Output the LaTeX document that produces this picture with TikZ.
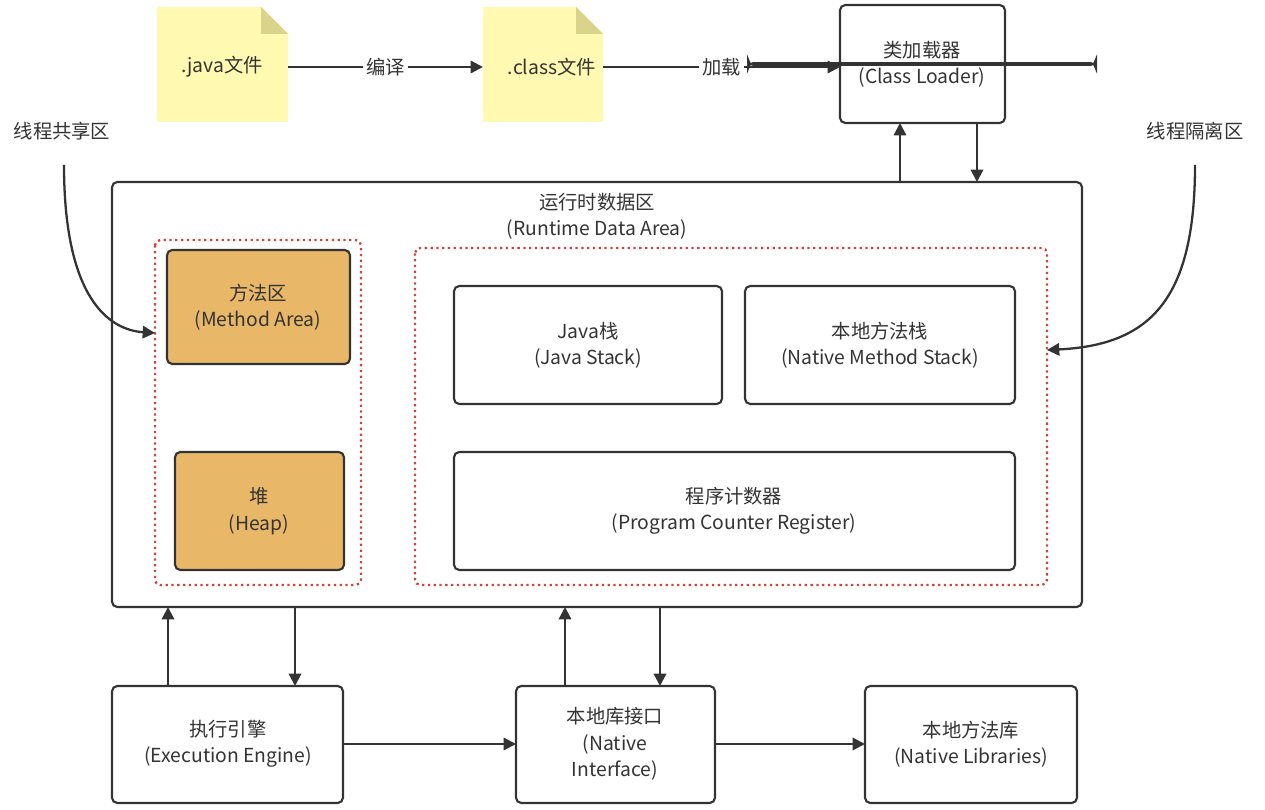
\documentclass[tikz,border=0pt]{standalone}
\usepackage{fontspec}
\setmainfont{Noto Sans CJK SC}
\usetikzlibrary{arrows.meta}
\definecolor{note}{HTML}{FFF9B1}
\definecolor{fold}{HTML}{D9D48A}
\definecolor{area}{HTML}{E8B868}
\definecolor{ink}{HTML}{333333}
\definecolor{dotred}{HTML}{D0453A}
\begin{document}
\begin{tikzpicture}[x=0.02cm,y=-0.02cm,
  every node/.style={font=\fontsize{11}{15}\selectfont, text=ink, align=center},
  box/.style={draw=ink, line width=1.2pt, rounded corners=3pt, inner sep=0pt},
  mem/.style={box, fill=area},
  zone/.style={draw=dotred, line width=1.3pt, dotted, rounded corners=3pt},
  arr/.style={draw=ink, line width=1.3pt, -{Triangle[length=7pt,width=7pt]}},
  lbl/.style={fill=white, inner sep=2pt}]
\useasboundingbox (0,0) rectangle (1265,810);
% notes
\fill[note] (157,7) -- (261,7) -- (288,34) -- (288,122) -- (157,122) -- cycle;
\fill[fold] (261,7) -- (288,34) -- (261,34) -- cycle;
\fill[note] (483,7) -- (576,7) -- (603,34) -- (603,122) -- (483,122) -- cycle;
\fill[fold] (576,7) -- (603,34) -- (576,34) -- cycle;
\node (java) at (222,67) {.java文件};
\node (class) at (552,67) {.class文件};
\coordinate (javaE) at (288,67);
\coordinate (classW) at (483,67);
\coordinate (classE) at (603,67);
% class loader
\node[box, minimum width=165\pgflinewidth, text width=3cm] (cl) at (922,64) {};
\draw[box] (840,5) rectangle (1005,123);
\node at (922,64) {类加载器\\(Class Loader)};
\coordinate (clW) at (840,67);
\draw[arr] (javaE) -- node[lbl]{编译} (classW);
\draw[arr] (classE) -- node[lbl]{加载} (clW);
% runtime area
\draw[box] (112,182) rectangle (1082,607);
\node at (597,216) {运行时数据区\\(Runtime Data Area)};
\draw[zone] (155,240) rectangle (361,585);
\draw[zone] (415,248) rectangle (1047,585);
\draw[mem] (167,250) rectangle (350,364);
\node (ma) at (258,307) {方法区\\(Method Area)};
\draw[mem] (175,452) rectangle (344,570);
\node (heap) at (259,511) {堆\\(Heap)};
\draw[box] (454,286) rectangle (722,404);
\node (js) at (588,345) {Java栈\\(Java Stack)};
\draw[box] (745,286) rectangle (1015,404);
\node (nms) at (880,345) {本地方法栈\\(Native Method Stack)};
\draw[box] (454,452) rectangle (1015,570);
\node (pc) at (734,511) {程序计数器\\(Program Counter Register)};
\draw[arr] (900,182) -- (900,123);
\draw[arr] (977,123) -- (977,182);
% side labels
\node (shared) at (62,131) {线程共享区};
\node (isol) at (1195,131) {线程隔离区};
\coordinate (lz) at (155,333);
\coordinate (rz) at (1047,350);
\draw[arr] (64,165) .. controls (64,300) and (110,330) .. (lz);
\draw[arr] (1195,165) .. controls (1195,300) and (1150,345) .. (rz);
% bottom
\draw[box] (112,686) rectangle (343,803);
\node (ee) at (228,744) {执行引擎\\(Execution Engine)};
\draw[box] (516,686) rectangle (715,803);
\node (ni) at (615,744) {本地库接口\\(Native\\Interface)};
\draw[box] (865,686) rectangle (1077,803);
\node (nl) at (971,744) {本地方法库\\(Native Libraries)};
\draw[arr] (168,686) -- (168,607);
\draw[arr] (295,607) -- (295,686);
\draw[arr] (565,686) -- (565,607);
\draw[arr] (660,607) -- (660,686);
\draw[arr] (343,744) -- (516,744);
\draw[arr] (715,744) -- (865,744);
\end{tikzpicture}
\end{document}
